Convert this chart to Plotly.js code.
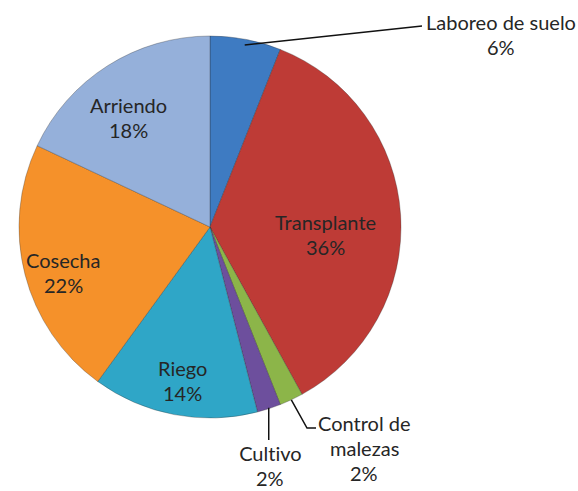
<!DOCTYPE html>
<html><head><meta charset="utf-8">
<script src="https://cdn.plot.ly/plotly-3.0.1.min.js"></script>
<style>html,body{margin:0;padding:0;background:#fff}#chart{width:578px;height:491px}
#chart text{font-variant-ligatures:none;font-feature-settings:"liga" 0,"dlig" 0}</style>
</head><body><div id="chart"></div>
<script>
// ---- data ----
const categories = ["Laboreo de suelo","Transplante","Control de malezas","Cultivo","Riego","Cosecha","Arriendo"];
const values = [6, 36, 2, 2, 14, 22, 18];
const labelText = ["Laboreo de suelo<br>6%","Transplante<br>36%","Control de<br>malezas<br>2%","Cultivo<br>2%","Riego<br>14%","Cosecha<br>22%","Arriendo<br>18%"];
const colors = ["#3e7bc2","#be3b36","#8cb549","#6d4f9d","#2fa6c7","#f5912a","#95b0da"];

// ---- layout geometry (pixels) ----
const W = 578, H = 491;
const cx = 210, cy = 227, R = 191;
const labelPx = [[501,34.5],[325,234],[364,448],[270,465],[182.5,380.5],[63,272.5],[128,117.5]];
const LINE_GAP = 25;
const FONT = "Lato, 'Open Sans', sans-serif";

const px = x => x / W;
const py = y => 1 - y / H;
const total = values.reduce((a, b) => a + b, 0);
let cum = 0;
const mids = values.map(v => { const m = (cum + v / 2) / total * 360; cum += v; return m; });
function edgePt(i, frac) {
  const a = mids[i] * Math.PI / 180;
  return [cx + R * frac * Math.sin(a), cy - R * frac * Math.cos(a)];
}

const trace = {
  type: 'pie',
  labels: categories,
  values: values,
  sort: false,
  direction: 'clockwise',
  rotation: 0,
  textinfo: 'none',
  hoverinfo: 'label+percent',
  marker: { colors: colors, line: { color: 'rgba(40,40,40,0.3)', width: 1 } },
  domain: { x: [px(cx - R), px(cx + R)], y: [py(cy + R), py(cy - R)] },
  showlegend: false
};

const annotations = [];
labelText.forEach((t, i) => {
  const lines = t.split('<br>');
  lines.forEach((ln, k) => {
    const yy = labelPx[i][1] + (k - (lines.length - 1) / 2) * LINE_GAP;
    annotations.push({
      text: ln, xref: 'paper', yref: 'paper',
      x: px(labelPx[i][0]), y: py(yy),
      xanchor: 'center', yanchor: 'middle', showarrow: false, align: 'center',
      font: { family: FONT, size: 20, weight: 400, color: '#262626' }
    });
  });
});

const a0 = edgePt(0, 0.97), a2 = edgePt(2, 1.0), a3 = edgePt(3, 0.995);
const lineStyle = { color: '#111', width: 1.5 };
const path = pts => 'M ' + pts.map(p => px(p[0]) + ',' + py(p[1])).join(' L ');
const shapes = [
  { type: 'path', xref: 'paper', yref: 'paper', path: path([a0, [422, 26]]), line: lineStyle },
  { type: 'path', xref: 'paper', yref: 'paper', path: path([a2, [307, 428], [316, 428]]), line: lineStyle },
  { type: 'path', xref: 'paper', yref: 'paper', path: path([a3, [a3[0], 440]]), line: lineStyle }
];

Plotly.newPlot('chart', [trace], {
  width: W, height: H,
  margin: { l: 0, r: 0, t: 0, b: 0 },
  paper_bgcolor: '#ffffff',
  annotations: annotations,
  shapes: shapes
}, { displayModeBar: false, staticPlot: true });
</script>
</body></html>
